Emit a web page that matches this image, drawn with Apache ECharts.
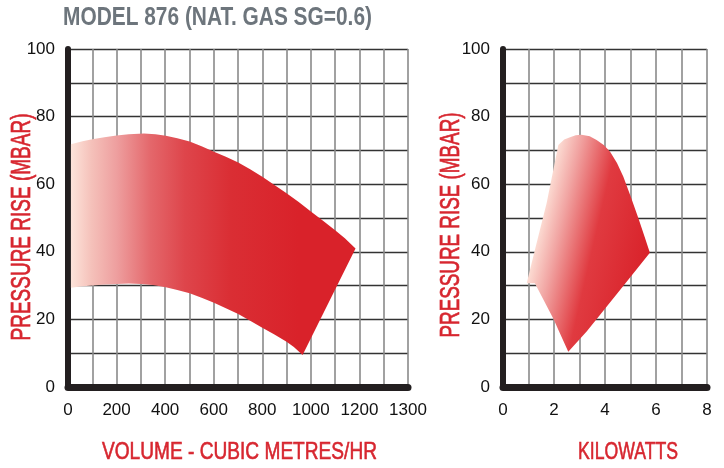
<!DOCTYPE html>
<html>
<head>
<meta charset="utf-8">
<script src="https://cdn.jsdelivr.net/npm/echarts@6/dist/echarts.min.js"></script>
<style>
html,body{margin:0;padding:0;background:#fff;}
#chart{width:724px;height:468px;}
</style>
</head>
<body>
<div id="chart"></div>
<script>
// ---- data ----
var titleText = 'MODEL 876 (NAT. GAS SG=0.6)';
var yAxisTitle = 'PRESSURE RISE (MBAR)';
var xLeftTitle = 'VOLUME - CUBIC METRES/HR';
var xRightTitle = 'KILOWATTS';

var yTickValues = [0, 20, 40, 60, 80, 100];
var yTickLabels = ['0', '20', '40', '60', '80', '100'];
var xLeftTickValues = [0, 200, 400, 600, 800, 1000, 1200, 1400];
var xLeftTickLabels = ['0', '200', '400', '600', '800', '1000', '1200', '1300'];
var xRightTickValues = [0, 2, 4, 6, 8];
var xRightTickLabels = ['0', '2', '4', '6', '8'];

// volume chart envelope (x = m3/hr, y = mbar)
var volUpperX = [12, 60, 100, 150, 200, 250, 313, 360, 403, 450, 501, 550, 601, 650, 701, 750, 800, 850, 900, 950, 1000, 1050, 1100, 1140, 1184];
var volUpperY = [71.8, 72.7, 73.3, 73.9, 74.4, 74.8, 75.0, 74.8, 74.3, 73.6, 72.6, 71.2, 69.6, 68.1, 66.4, 64.4, 62.2, 59.8, 57.3, 54.7, 51.9, 49.2, 46.4, 44.0, 41.0];
var volLowerX = [966, 930, 900, 850, 800, 750, 701, 650, 601, 550, 501, 450, 403, 350, 302, 250, 204, 150, 100, 50, 12];
var volLowerY = [9.5, 11.8, 13.4, 15.5, 17.5, 19.6, 21.6, 23.3, 24.9, 26.4, 27.7, 28.7, 29.5, 30.2, 30.5, 30.6, 30.5, 30.3, 30.0, 29.7, 29.4];

// kilowatt chart envelope (x = kW, y = mbar), traced clockwise
var kwX = [0.93, 1.25, 1.71, 2.04, 2.17, 2.40, 2.63, 2.85, 3.08, 3.40, 3.67, 3.95, 4.20, 4.47, 4.72, 5.00, 5.31, 5.55, 5.76, 4.59, 3.28, 2.56, 1.97, 1.25];
var kwY = [30.7, 40.5, 54.4, 66.7, 71.6, 73.2, 73.9, 74.5, 74.6, 74.2, 73.1, 71.6, 69.6, 66.3, 62.2, 56.5, 49.9, 44.5, 39.7, 28.7, 16.4, 10.4, 20.3, 30.7];

// ---- chart ----
var FONT = '"Liberation Sans", Arial, sans-serif';
var RED = '#d7262f';
var chart = echarts.init(document.getElementById('chart'));

var mctx = document.createElement('canvas').getContext('2d');
function fitScale(text, font, target) {
  mctx.font = font;
  return target / mctx.measureText(text).width;
}

function lookup(values, labels) {
  return function (v) {
    var i = values.indexOf(Math.round(v * 1000) / 1000);
    return i >= 0 ? labels[i] : '';
  };
}

function polyItem(xs, ys, gradFrom, gradTo, stops) {
  return function (params, api) {
    var pts = [];
    for (var i = 0; i < xs.length; i++) pts.push(api.coord([xs[i], ys[i]]));
    var a = api.coord(gradFrom), b = api.coord(gradTo);
    return {
      type: 'polygon',
      shape: { points: pts, smooth: 0 },
      style: {
        fill: new echarts.graphic.LinearGradient(a[0], a[1], b[0], b[1], stops, true),
        stroke: null
      }
    };
  };
}

var volPts = { x: volUpperX.concat(volLowerX), y: volUpperY.concat(volLowerY) };

function xAxisCfg(idx, max, interval, vals, labs) {
  return {
    type: 'value', gridIndex: idx, min: 0, max: max, interval: interval,
    axisLine: { show: true, onZero: false, lineStyle: { color: '#231f20', width: 7 } },
    axisTick: { show: false },
    axisLabel: { formatter: lookup(vals, labs), color: '#111', fontFamily: FONT, fontSize: 17, margin: 15 },
    splitLine: { show: true, lineStyle: { color: '#8a8a8a', width: 1.6 } }
  };
}
function yAxisCfg(idx) {
  return {
    type: 'value', gridIndex: idx, min: 0, max: 100, interval: 10,
    axisLine: { show: true, onZero: false, lineStyle: { color: '#231f20', width: 6 } },
    axisTick: { show: false },
    axisLabel: { formatter: lookup(yTickValues, yTickLabels), color: '#111', fontFamily: FONT, fontSize: 17, margin: 13 },
    splitLine: { show: true, lineStyle: { color: '#333', width: 1.3 } }
  };
}

var titleFont = 'bold 26px "Liberation Sans", Arial, sans-serif';
var yNameFont = 'normal 27px "Liberation Sans", Arial, sans-serif';
var xNameFont = 'normal 24px "Liberation Sans", Arial, sans-serif';

function textEl(text, font, color, x, y, align, rotation, targetWidth, strokeW) {
  return {
    type: 'text', x: x, y: y, rotation: rotation,
    scaleX: fitScale(text, font, targetWidth), scaleY: 1,
    style: {
      text: text, font: font, fill: color, textAlign: align, textVerticalAlign: 'middle',
      stroke: strokeW ? color : null, lineWidth: strokeW || 0
    }
  };
}

chart.setOption({
  animation: false,
  backgroundColor: '#fff',
  grid: [
    { left: 68, right: 316, top: 49, bottom: 81 },
    { left: 503, right: 17, top: 49, bottom: 81 }
  ],
  xAxis: [
    xAxisCfg(0, 1400, 100, xLeftTickValues, xLeftTickLabels),
    xAxisCfg(1, 8, 1, xRightTickValues, xRightTickLabels)
  ],
  yAxis: [yAxisCfg(0), yAxisCfg(1)],
  graphic: [
    textEl(titleText, titleFont, '#6d757c', 63, 18, 'left', 0, 309, 0),
    textEl(yAxisTitle, yNameFont, RED, 23, 227, 'center', Math.PI / 2, 227, 0.7),
    textEl(yAxisTitle, yNameFont, RED, 452, 225, 'center', Math.PI / 2, 225, 0.7),
    textEl(xLeftTitle, xNameFont, RED, 239.5, 452, 'center', 0, 275, 0.6),
    textEl(xRightTitle, xNameFont, RED, 628, 452, 'center', 0, 100, 0.6)
  ],
  series: [
    {
      type: 'custom', xAxisIndex: 0, yAxisIndex: 0, data: [[0, 0]],
      renderItem: polyItem(volPts.x, volPts.y, [12, 50], [950, 50], [
        { offset: 0, color: '#fde4da' },
        { offset: 0.09, color: '#f5c1ba' },
        { offset: 0.2, color: '#ee9f9f' },
        { offset: 0.35, color: '#e4676b' },
        { offset: 0.5, color: '#de454b' },
        { offset: 0.7, color: '#da2e34' },
        { offset: 1, color: '#d9222a' }
      ])
    },
    {
      type: 'custom', xAxisIndex: 1, yAxisIndex: 1, data: [[0, 0]],
      renderItem: polyItem(kwX, kwY, [0.93, 30.7], [5.25, 23.2], [
        { offset: 0, color: '#fcdcd3' },
        { offset: 0.18, color: '#f1a4a2' },
        { offset: 0.5, color: '#e03a40' },
        { offset: 1, color: '#d9222a' }
      ])
    }
  ]
});
</script>
</body>
</html>
